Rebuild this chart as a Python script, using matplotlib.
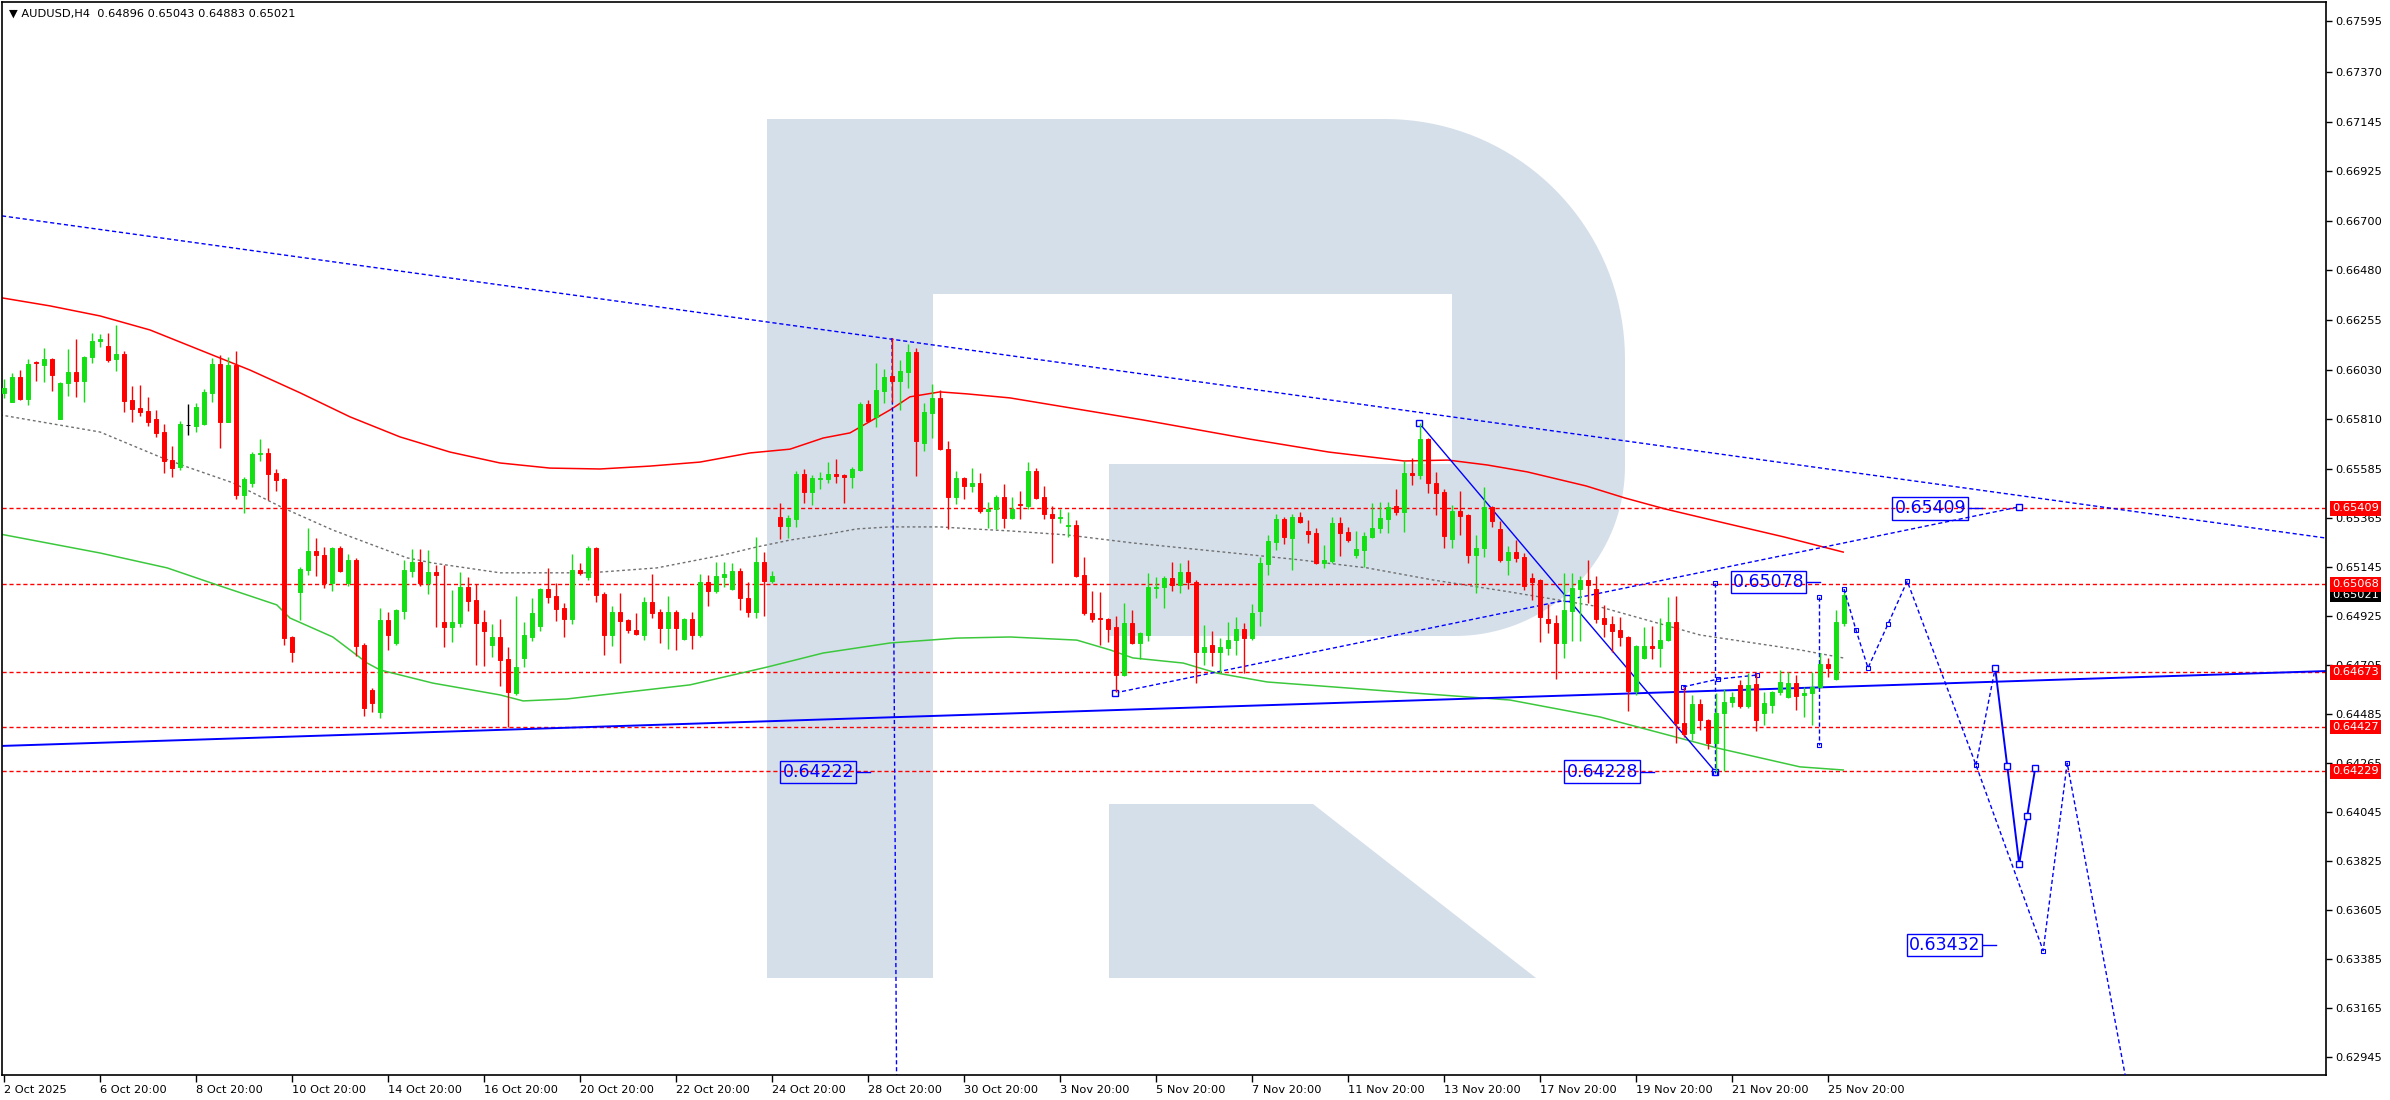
import numpy as np
import matplotlib
matplotlib.use("Agg")
import matplotlib.pyplot as plt
import matplotlib.transforms as mtransforms
from matplotlib.patches import Polygon

# AUDUSD H4 candles, prices in points (1e-5)
opens = [65928, 65887, 65999, 65901, 66066, 66053, 66080, 65811, 65972, 66021,
         65981, 66089, 66161, 66138, 66080, 66102, 65896, 65860, 65847, 65811,
         65752, 65626, 65595, 65784, 65779, 65790, 65928, 66057, 65797, 66053,
         65470, 65524, 65653, 65658, 65569, 65541, 64832, 65034, 65133, 65218,
         65200, 65075, 65231, 65075, 65178, 64796, 64594, 64495, 64908, 64805,
         64949, 65129, 65169, 65075, 65124, 64899, 64877, 64895, 65057, 64998,
         64899, 64796, 64832, 64733, 64581, 64738, 64832, 64881, 65048, 65016,
         64962, 64913, 65133, 65102, 65231, 65025, 64841, 64944, 64908, 64863,
         64841, 64989, 64944, 64872, 64944, 64823, 64913, 64841, 65079, 65039,
         65102, 65048, 65129, 65007, 64944, 65169, 65084, 65371, 65330, 65362,
         65564, 65483, 65541, 65541, 65564, 65560, 65550, 65582, 65878, 65820,
         65937, 66003, 65981, 66021, 66111, 65702, 65838, 65905, 65675, 65461,
         65546, 65510, 65524, 65398, 65407, 65461, 65366, 65429, 65420, 65578,
         65461, 65384, 65366, 65330, 65335, 65111, 64940, 64917, 64913, 64877,
         64662, 64895, 64805, 64841, 65052, 65057, 65097, 65066, 65124, 65079,
         64765, 64796, 64765, 64782, 64818, 64868, 64827, 64949, 65160, 65258,
         65362, 65276, 65371, 65308, 65299, 65164, 65173, 65344, 65303, 65200,
         65222, 65281, 65321, 65362, 65420, 65393, 65569, 65560, 65720, 65524,
         65483, 65272, 65398, 65380, 65200, 65231, 65416, 65317, 65178, 65213,
         65191, 65097, 65088, 64913, 64895, 64805, 64949, 65048, 65088, 65048,
         64917, 64890, 64863, 64832, 64590, 64738, 64791, 64782, 64818, 64899,
         64446, 64401, 64531, 64459, 64356, 64491, 64540, 64616, 64522, 64621,
         64491, 64527, 64585, 64563, 64626, 64572, 64581, 64608, 64711, 64643,
         64896]
highs = [65990, 66017, 66030, 66080, 66070, 66129, 66084, 65976, 66125, 66170,
         66095, 66197, 66192, 66197, 66233, 66116, 65958, 65963, 65910, 65851,
         65788, 65689, 65802, 65878, 65883, 65945, 66084, 66098, 66089, 66116,
         65550, 65662, 65720, 65680, 65586, 65546, 64836, 65147, 65321, 65276,
         65236, 65236, 65240, 65204, 65187, 64805, 64603, 64962, 64944, 64958,
         65178, 65227, 65227, 65222, 65155, 65155, 65043, 65124, 65102, 65070,
         64953, 64890, 64913, 64787, 65016, 64899, 65007, 65052, 65142, 65075,
         64985, 65204, 65164, 65240, 65236, 65034, 64971, 65030, 64912, 64940,
         65012, 65115, 64958, 65016, 64953, 64917, 64944, 65115, 65111, 65169,
         65169, 65164, 65142, 65079, 65281, 65213, 65129, 65434, 65380, 65578,
         65586, 65560, 65573, 65617, 65631, 65564, 65595, 65887, 65896, 66062,
         66035, 66174, 66075, 66147, 66129, 65883, 65967, 65941, 65711, 65578,
         65550, 65591, 65569, 65438, 65470, 65519, 65461, 65488, 65617, 65591,
         65510, 65420, 65407, 65393, 65357, 65191, 65039, 65034, 64917, 64926,
         64985, 64953, 64854, 65120, 65102, 65106, 65169, 65164, 65178, 65088,
         64886, 64859, 64827, 64899, 64922, 64895, 64980, 65191, 65290, 65384,
         65371, 65384, 65393, 65357, 65321, 65245, 65371, 65371, 65326, 65308,
         65303, 65434, 65438, 65438, 65497, 65622, 65635, 65792, 65725, 65573,
         65497, 65425, 65488, 65384, 65290, 65506, 65420, 65353, 65240, 65267,
         65209, 65120, 65092, 64980, 64931, 65120, 65120, 65106, 65178, 65106,
         64976, 64926, 64922, 64836, 64796, 64877, 64881, 64917, 65012, 65016,
         64608, 64572, 64554, 64464, 64581, 64599, 64585, 64639, 64670, 64670,
         64585, 64590, 64684, 64675, 64661, 64608, 64675, 64760, 64738, 64953,
         65043]
lows = [65905, 65887, 65896, 65874, 65981, 65976, 65937, 65811, 65914, 65910,
        65887, 66062, 66134, 66066, 66026, 65842, 65797, 65824, 65779, 65730,
        65569, 65551, 65582, 65739, 65752, 65784, 65887, 65680, 65797, 65452,
        65389, 65506, 65622, 65447, 65488, 64796, 64720, 64908, 65111, 65106,
        65052, 65039, 65124, 65061, 64747, 64477, 64495, 64468, 64774, 64796,
        64913, 65102, 65061, 65025, 64876, 64787, 64809, 64877, 64949, 64706,
        64702, 64742, 64612, 64428, 64572, 64697, 64814, 64859, 64985, 64904,
        64832, 64890, 65111, 65088, 64989, 64751, 64791, 64715, 64850, 64841,
        64818, 64917, 64805, 64778, 64774, 64818, 64778, 64832, 64971, 65030,
        65057, 65044, 64953, 64922, 64917, 64926, 65075, 65272, 65276, 65326,
        65434, 65425, 65496, 65524, 65524, 65434, 65501, 65578, 65798, 65775,
        65883, 65887, 65851, 65949, 65555, 65667, 65725, 65671, 65317, 65429,
        65452, 65483, 65389, 65321, 65317, 65321, 65362, 65362, 65407, 65452,
        65362, 65164, 65344, 65281, 65102, 64931, 64899, 64796, 64809, 64585,
        64657, 64800, 64733, 64814, 65007, 64962, 65039, 65030, 65048, 64625,
        64706, 64702, 64670, 64751, 64751, 64670, 64818, 64881, 65111, 65222,
        65249, 65133, 65344, 65254, 65160, 65142, 65164, 65196, 65258, 65187,
        65146, 65276, 65299, 65299, 65380, 65303, 65515, 65541, 65479, 65380,
        65231, 65231, 65290, 65164, 65030, 65191, 65326, 65169, 65111, 65169,
        65043, 64998, 64809, 64850, 64643, 64738, 64814, 64814, 64985, 64895,
        64832, 64765, 64791, 64500, 64572, 64733, 64733, 64697, 64814, 64356,
        64383, 64370, 64414, 64329, 64228, 64231, 64518, 64513, 64513, 64410,
        64437, 64491, 64572, 64558, 64504, 64473, 64437, 64603, 64652, 64639,
        64883]
closes = [65949, 65999, 65901, 66057, 66062, 66080, 66008, 65972, 66021, 65981,
          66089, 66161, 66170, 66075, 66102, 65892, 65856, 65842, 65797, 65748,
          65622, 65590, 65788, 65784, 65865, 65932, 66057, 65797, 66053, 65470,
          65541, 65653, 65658, 65564, 65537, 64827, 64765, 65138, 65218, 65200,
          65075, 65231, 65129, 65178, 64791, 64513, 64536, 64908, 64841, 64953,
          65133, 65169, 65075, 65124, 65111, 64877, 64899, 65057, 64994, 64895,
          64859, 64832, 64729, 64585, 64697, 64841, 64940, 65048, 65012, 64958,
          64913, 65133, 65120, 65231, 65021, 64841, 64944, 64904, 64863, 64845,
          64989, 64940, 64872, 64944, 64872, 64913, 64841, 65079, 65039, 65106,
          65115, 65129, 65007, 64944, 65169, 65084, 65106, 65330, 65366, 65564,
          65483, 65546, 65546, 65564, 65555, 65550, 65586, 65878, 65802, 65941,
          65999, 65981, 66026, 66111, 65711, 65842, 65905, 65675, 65461, 65546,
          65510, 65524, 65398, 65407, 65461, 65366, 65407, 65425, 65578, 65456,
          65384, 65366, 65371, 65335, 65106, 64940, 64913, 64913, 64868, 64662,
          64895, 64805, 64850, 65057, 65057, 65097, 65066, 65124, 65079, 64765,
          64787, 64765, 64787, 64818, 64868, 64827, 64940, 65164, 65263, 65362,
          65281, 65371, 65348, 65294, 65164, 65178, 65344, 65299, 65267, 65227,
          65285, 65321, 65366, 65416, 65393, 65569, 65560, 65720, 65524, 65479,
          65285, 65398, 65375, 65200, 65231, 65416, 65353, 65178, 65213, 65187,
          65061, 65079, 64922, 64895, 64805, 64953, 65052, 65088, 65066, 64913,
          64890, 64859, 64832, 64590, 64791, 64791, 64782, 64818, 64899, 64446,
          64397, 64531, 64459, 64356, 64491, 64540, 64563, 64522, 64616, 64459,
          64536, 64585, 64630, 64626, 64567, 64581, 64608, 64711, 64693, 64899,
          65021]

tick_bars = list(range(0, 229, 12))
tick_labels = ["2 Oct 2025", "6 Oct 20:00", "8 Oct 20:00", "10 Oct 20:00",
               "14 Oct 20:00", "16 Oct 20:00", "20 Oct 20:00", "22 Oct 20:00",
               "24 Oct 20:00", "28 Oct 20:00", "30 Oct 20:00", "3 Nov 20:00",
               "5 Nov 20:00", "7 Nov 20:00", "11 Nov 20:00", "13 Nov 20:00",
               "17 Nov 20:00", "19 Nov 20:00", "21 Nov 20:00", "25 Nov 20:00"]
price_ticks = [0.67595, 0.67370, 0.67145, 0.66925, 0.66700, 0.66480, 0.66255,
               0.66030, 0.65810, 0.65585, 0.65365, 0.65145, 0.64925, 0.64705,
               0.64485, 0.64265, 0.64045, 0.63825, 0.63605, 0.63385, 0.63165,
               0.62945]
levels = [0.65409, 0.65068, 0.64673, 0.64427, 0.64229]
last_price = 0.65021

# moving averages (bar, price)
red_x = [-0.25, 5.75, 12, 18.25, 24.5, 30.75, 37, 43.25, 49.5, 55.75, 62, 68.25,
         74.5, 80.75, 87, 93.25, 98.25, 102.4, 105.75, 110.75, 113.25, 117, 120.4,
         125.75, 142.4, 155.75, 165.6, 175, 180.5, 185.4, 190.4, 197.75, 202.6,
         207.6, 215, 222.5, 229.9]
red_y = [0.66354, 0.66318, 0.66273, 0.66210, 0.66120, 0.66030, 0.65928, 0.65820,
         0.65730, 0.65662, 0.65613, 0.65590, 0.65586, 0.65599, 0.65617, 0.65658,
         0.65675, 0.65725, 0.65748, 0.65851, 0.65910, 0.65932, 0.65923, 0.65905,
         0.65806, 0.65720, 0.65662, 0.65622, 0.65626, 0.65604, 0.65573, 0.65510,
         0.65456, 0.65407, 0.65344, 0.65281, 0.65213]
gray_x = [-0.5, 12, 19.5, 22.9, 28.6, 34.9, 41.1, 45.4, 50.4, 53.6, 62, 73.25,
          81.6, 89.9, 94.1, 98.25, 102.4, 106.6, 110.75, 117, 121.1, 125.75, 132.9,
          141.1, 153.6, 162, 170.4, 178.6, 188.25, 199.5, 212, 224.5, 229.9]
gray_y = [0.65829, 0.65752, 0.65640, 0.65595, 0.65524, 0.65411, 0.65312, 0.65254,
          0.65187, 0.65164, 0.65120, 0.65120, 0.65142, 0.65200, 0.65236, 0.65267,
          0.65290, 0.65317, 0.65326, 0.65326, 0.65317, 0.65308, 0.65290, 0.65254,
          0.65209, 0.65178, 0.65142, 0.65088, 0.65034, 0.64967, 0.64841, 0.64774,
          0.64738]
green_x = [-0.5, 12, 20.4, 26.6, 34.1, 35.75, 41.1, 45.4, 47, 53.6, 62, 64.9, 70.4,
           85.75, 95.4, 102.4, 110.75, 119.1, 125.75, 134.1, 138.25, 141.1, 147.4,
           151.6, 157.9, 166.1, 174.5, 188.25, 199.5, 214.1, 224.5, 229.9]
green_y = [0.65294, 0.65209, 0.65142, 0.65066, 0.64976, 0.64917, 0.64832, 0.64715,
           0.64684, 0.64625, 0.64572, 0.64545, 0.64554, 0.64617, 0.64697, 0.64760,
           0.64805, 0.64827, 0.64832, 0.64818, 0.64774, 0.64738, 0.64715, 0.64670,
           0.64630, 0.64608, 0.64585, 0.64549, 0.64473, 0.64334, 0.64249, 0.64235]

# drawn objects (bar, price)
res_x, res_y = [-0.25, 290.25], [0.66722, 0.65276]
sup_x, sup_y = [-0.25, 290.25], [0.64343, 0.64679]
rise_x, rise_y = [138.9, 251.9], [0.64581, 0.65416]
drop_x, drop_y = [176.9, 195.4, 213.9], [0.65792, 0.65007, 0.64228]
peak_x, peak_y = [111, 111.6], [0.66174, 0.6270]
va_x, va_y = [213.9, 213.9], [0.65074, 0.64222]
vb_x, vb_y = [226.9, 226.9], [0.65011, 0.64347]
tri_x, tri_y = [209.9, 214.25, 219.1], [0.64608, 0.64643, 0.64661]
fc_x = [230, 231.5, 233, 235.5, 237.9, 246.5, 254.9, 257.9, 266.0]
fc_y = [0.65047, 0.64863, 0.64693, 0.64890, 0.65083, 0.64257, 0.63424, 0.64266, 0.6270]
br_x, br_y = [246.5, 248.9], [0.64257, 0.64692]
sol_x = [248.9, 250.4, 251.9, 252.9, 253.9]
sol_y = [0.64692, 0.64254, 0.63813, 0.64028, 0.64243]
# labels: (right edge bar, price, text)
tags = [(106.6, 0.64225, "0.64222"), (204.6, 0.64228, "0.64228"),
        (225.4, 0.65078, "0.65078"), (245.6, 0.65409, "0.65409"),
        (247.4, 0.63450, "0.63432")]

GREEN = "#12e012"
RED = "#ff0000"
BLUE = "#0000ff"

fig = plt.figure(figsize=(23.9, 11), dpi=100)
ax = fig.add_axes([2 / 2390, 25 / 1100, 2324 / 2390, 1073 / 1100])
ax.set_xlim(-0.25, 290.25)
ax.set_ylim(0.62866, 0.67682)

# watermark logo, in pixel positions of the frame
def px(x, y):
    return ((x - 2) / 2324, 1 - (y - 2) / 1073)

t1 = np.linspace(np.pi / 2, 0, 40)
t2 = np.linspace(0, -np.pi / 2, 40)
pts = [(767, 119), (1385, 119)]
pts += [(1385 + 240 * np.cos(t), 359 - 240 * np.sin(t)) for t in t1]
pts += [(1625, 466)]
pts += [(1455 + 170 * np.cos(t), 466 - 170 * np.sin(t)) for t in t2]
pts += [(1109, 636), (1109, 464), (1452, 464), (1452, 294), (933, 294),
        (933, 978), (767, 978)]
wm_col = "#d5dfea"
ax.add_patch(Polygon([px(*p) for p in pts], closed=True, transform=ax.transAxes,
                     fc=wm_col, ec="none", zorder=0.5))
leg = [(1109, 804), (1313, 804), (1536, 978), (1109, 978)]
ax.add_patch(Polygon([px(*p) for p in leg], closed=True, transform=ax.transAxes,
                     fc=wm_col, ec="none", zorder=0.5))

for lv in levels:
    ax.axhline(lv, color=RED, lw=1.0, ls=(0, (3, 2)), zorder=1)

ax.plot(red_x, red_y, color=RED, lw=1.1, zorder=2)
ax.plot(green_x, green_y, color="#3cc83c", lw=1.1, zorder=2)
ax.plot(gray_x, gray_y, color="#707070", lw=1.0, ls=(0, (2, 2)), zorder=2)

# trend lines
ax.plot(res_x, res_y, color=BLUE, lw=1.0, ls=(0, (3, 2)), zorder=2.5)
ax.plot(sup_x, sup_y, color=BLUE, lw=1.4, zorder=2.5)
ax.plot(rise_x, rise_y, color=BLUE, lw=1.0, ls=(0, (3, 2)), zorder=2.5,
        marker="s", ms=4, mfc="white", mec=BLUE, mew=1)
ax.plot(drop_x, drop_y, color=BLUE, lw=1.0, zorder=2.5,
        marker="s", ms=4.5, mfc="white", mec=BLUE, mew=1)
ax.plot(peak_x, peak_y, color=BLUE, lw=1.0, ls=(0, (3, 2)), zorder=2.5)
for xs, ys in [(va_x, va_y), (vb_x, vb_y), (tri_x, tri_y)]:
    ax.plot(xs, ys, color=BLUE, lw=1.0, ls=(0, (3, 2)), zorder=2.5,
            marker="s", ms=3, mfc="none", mec=BLUE, mew=0.8)

# candles
o = np.array(opens) / 1e5
h = np.array(highs) / 1e5
l = np.array(lows) / 1e5
c = np.array(closes) / 1e5
x = np.arange(len(o))
cols = np.where(c > o, GREEN, np.where(c < o, RED, "black"))
ax.vlines(x, l, h, colors=cols, lw=1.0, zorder=3)
ax.bar(x, c - o, bottom=o, width=0.62, color=cols, edgecolor=cols,
       linewidth=0.7, zorder=3.1)

# forecast
ax.plot(fc_x, fc_y, color=BLUE, lw=1.0, ls=(0, (3, 2)), zorder=3.5,
        marker="s", ms=3, mfc="none", mec=BLUE, mew=0.8, markevery=list(range(8)))
ax.plot(br_x, br_y, color=BLUE, lw=1.0, ls=(0, (3, 2)), zorder=3.5)
ax.plot(sol_x, sol_y, color=BLUE, lw=1.4, zorder=3.6,
        marker="s", ms=5, mfc="white", mec=BLUE, mew=1)

# boxed price labels with a stub
for xr, yv, txt in tags:
    ax.plot([xr, xr + 1.6], [yv, yv], color=BLUE, lw=1.0, zorder=4)
    ax.text(xr - 0.35, yv, txt, ha="right", va="center", fontsize=12.5,
            color=BLUE, zorder=4,
            bbox=dict(boxstyle="square,pad=0.12", fc="none", ec=BLUE, lw=1.0))

# axes styling
for s in ax.spines.values():
    s.set_color("black")
    s.set_linewidth(1.2)
ax.yaxis.tick_right()
ax.set_yticks(price_ticks)
ax.set_yticklabels([f"{p:.5f}" for p in price_ticks])
ax.set_xticks(tick_bars)
ax.set_xticklabels(tick_labels)
for t in ax.get_xticklabels():
    t.set_ha("left")
ax.tick_params(axis="y", direction="out", length=4, width=1, pad=3, labelsize=8.2)
ax.tick_params(axis="x", direction="out", length=5, width=1, pad=2, labelsize=8.2)

# price tags on the right scale
trans = mtransforms.blended_transform_factory(ax.transAxes, ax.transData)
ax.text(1.0025, last_price, f"{last_price:.5f}", transform=trans, ha="left",
        va="center", fontsize=8.2, color="white", clip_on=False, zorder=5,
        bbox=dict(boxstyle="square,pad=0.2", fc="black", ec="none"))
for lv in levels:
    ax.text(1.0025, lv, f"{lv:.5f}", transform=trans, ha="left", va="center",
            fontsize=8.2, color="white", clip_on=False, zorder=6,
            bbox=dict(boxstyle="square,pad=0.2", fc=RED, ec="none"))

ax.text(0.003, 0.9888, "\u25bc AUDUSD,H4  0.64896 0.65043 0.64883 0.65021",
        transform=ax.transAxes, ha="left", va="center", fontsize=8.2, zorder=6)

fig.savefig("out.png", dpi=100)
